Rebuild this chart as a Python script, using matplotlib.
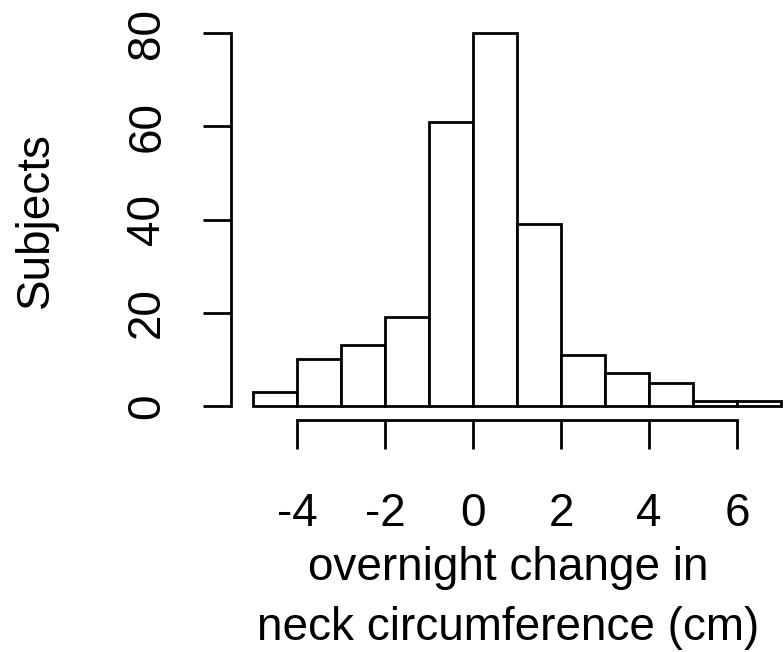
import numpy as np
import matplotlib
matplotlib.use("Agg")
import matplotlib.pyplot as plt

# histogram of overnight change in neck circumference
bin_edges = [-5, -4, -3, -2, -1, 0, 1, 2, 3, 4, 5, 6, 7]
counts = [3, 10, 13, 19, 61, 80, 39, 11, 7, 5, 1, 1]
x_ticks = [-4, -2, 0, 2, 4, 6]
y_ticks = [0, 20, 40, 60, 80]

plt.rcParams['font.family'] = ['Liberation Sans', 'DejaVu Sans']

W, H = 784, 652
fig = plt.figure(figsize=(W / 100, H / 100), dpi=100)

# axes box in pixels: left 231, right 784, top 20, bottom 420
ax = fig.add_axes([231 / W, (H - 420) / H, (784 - 231) / W, 400 / H])

lw = 2.0
edges = np.array(bin_edges)
ax.bar(edges[:-1], counts, width=np.diff(edges), align='edge',
       facecolor='white', edgecolor='black', linewidth=lw, clip_on=False)

ax.set_xlim(-5.5, 7 + 3 / 44)
ax.set_ylim(-3.0, (406 - 20) / 4.6625)

for s in ['top', 'right']:
    ax.spines[s].set_visible(False)
ax.spines['left'].set_bounds(0, 80)
ax.spines['bottom'].set_bounds(-4, 6)
ax.spines['left'].set_linewidth(lw)
ax.spines['bottom'].set_linewidth(lw)

fs = 33
ax.set_xticks(x_ticks, [str(v) for v in x_ticks], fontsize=fs)
ax.set_yticks(y_ticks, [str(v) for v in y_ticks], fontsize=fs,
              rotation=90, va='center')
ax.tick_params(axis='x', length=21, width=lw, pad=31)
ax.tick_params(axis='y', length=20.5, width=lw, pad=24)

ax.set_xlabel('overnight change in\nneck circumference (cm)', fontsize=fs,
              linespacing=1.48)
ax.xaxis.set_label_coords((508 - 231) / 553, (420 - 546) / 400)
ax.set_ylabel('Subjects', fontsize=fs)
ax.yaxis.set_label_coords((58 - 231) / 553, 0.5)

fig.savefig('out.png', dpi=100)
